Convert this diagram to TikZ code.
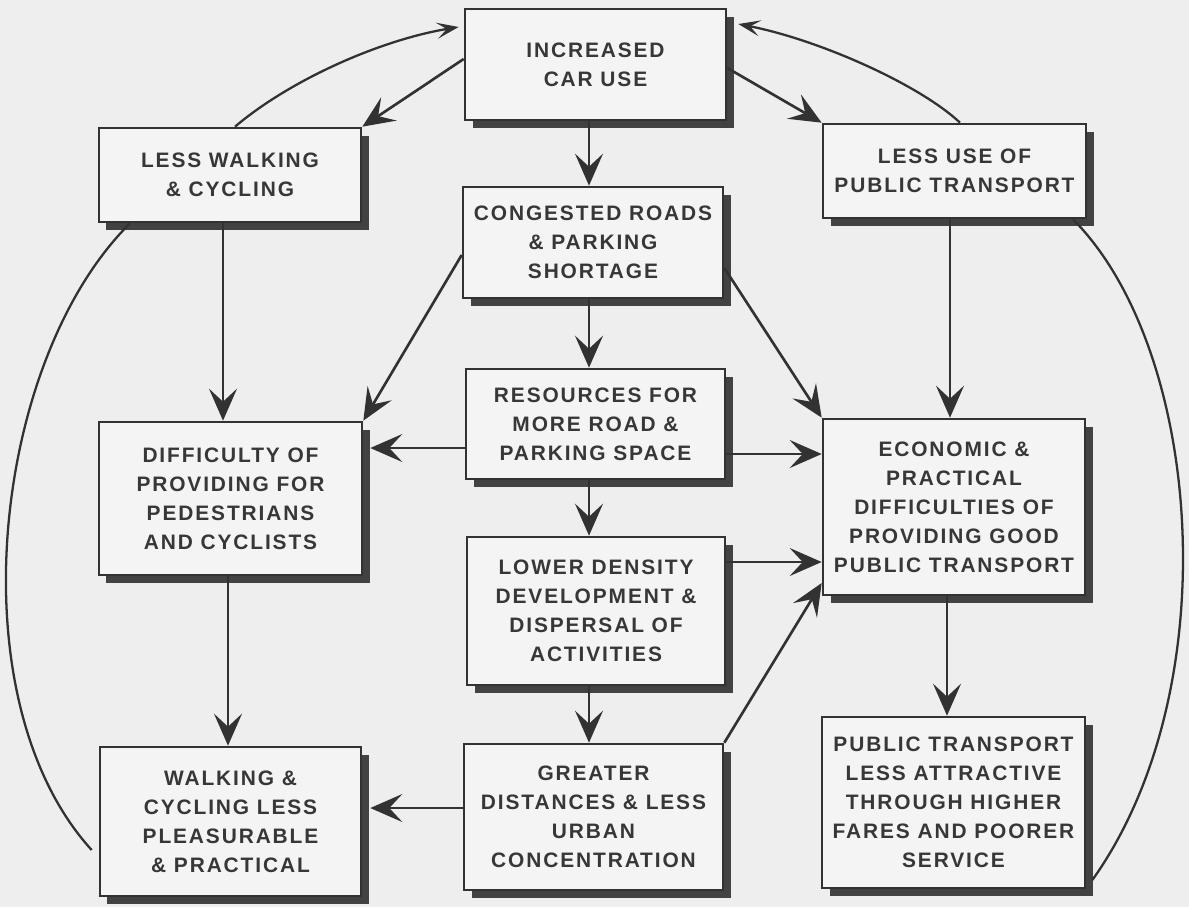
\documentclass[tikz,border=0pt]{standalone}
\usepackage{fontspec}
\usetikzlibrary{arrows.meta,shadows,calc}
\newfontfamily\boxfont[LetterSpace=9]{Liberation Sans}
\definecolor{linec}{RGB}{50,50,50}
\definecolor{shadowc}{RGB}{66,66,66}
\definecolor{textc}{RGB}{55,55,55}
\definecolor{bgc}{RGB}{238,238,238}
\definecolor{boxc}{RGB}{244,244,244}
\newcommand\drawbox[6]{\node[box, minimum width={(#4-#2)*0.02cm}, minimum height={(#5-#3)*0.02cm}] (#1) at ({(#2+#4)/2},{(#3+#5)/2}) {#6};}
\begin{document}
\begin{tikzpicture}[x=0.02cm,y=-0.02cm,
  box/.style={draw=linec, line width=1.5pt, fill=boxc, text=textc, align=center, inner sep=0pt,
    font=\boxfont\bfseries\fontsize{11.9}{16.5}\selectfont,
    general shadow={fill=shadowc, shadow xshift=0.15cm, shadow yshift=-0.16cm}},
  arr/.style={draw=linec, line width=1.5pt, -{Stealth[length=0.64cm, width=0.56cm, inset=0.26cm]}},
  carr/.style={draw=linec, line width=1.3pt, -{Stealth[length=0.44cm, width=0.32cm, inset=0.2cm]}},
  link/.style={draw=linec, line width=1.3pt}]
\fill[bgc] (0,0) rectangle (1189,907);
\useasboundingbox (0,0) rectangle (1189,907);

\drawbox{A}{465}{9}{726}{120}{INCREASED\\CAR USE}
\drawbox{B}{99}{128}{361}{222}{LESS WALKING\\\& CYCLING}
\drawbox{C}{823}{124}{1086}{218}{LESS USE OF\\PUBLIC TRANSPORT}
\drawbox{D}{463}{187}{723}{298}{CONGESTED ROADS\\\& PARKING\\SHORTAGE}
\drawbox{E}{466}{369}{725}{479}{RESOURCES FOR\\MORE ROAD \&\\PARKING SPACE}
\drawbox{F}{467}{537}{725}{685}{LOWER DENSITY\\DEVELOPMENT \&\\DISPERSAL OF\\ACTIVITIES}
\drawbox{G}{99}{422}{362}{575}{DIFFICULTY OF\\PROVIDING FOR\\PEDESTRIANS\\AND CYCLISTS}
\drawbox{H}{823}{419}{1085}{595}{ECONOMIC \&\\PRACTICAL\\DIFFICULTIES OF\\PROVIDING GOOD\\PUBLIC TRANSPORT}
\drawbox{I}{100}{747}{361}{896}{WALKING \&\\CYCLING LESS\\PLEASURABLE\\\& PRACTICAL}
\drawbox{J}{464}{744}{723}{890}{GREATER\\DISTANCES \& LESS\\URBAN\\CONCENTRATION}
\drawbox{K}{822}{717}{1085}{888}{PUBLIC TRANSPORT\\LESS ATTRACTIVE\\THROUGH HIGHER\\FARES AND POORER\\SERVICE}

\coordinate (mx) at (589,0);
\coordinate (bx) at (223,0);
\coordinate (gx) at (228,0);
\coordinate (cx) at (950,0);
\coordinate (hx) at (947,0);
\coordinate (bcx) at (235,0);
\coordinate (ccx) at (960,0);
\coordinate (lx) at (130,0);
\coordinate (rx) at (1073,0);
\coordinate (yA0) at (0,27);
\coordinate (yA1) at (0,59);
\coordinate (yA2) at (0,24);
\coordinate (yA3) at (0,68);
\coordinate (yD1) at (0,255);
\coordinate (yD2) at (0,268);
\coordinate (yEG) at (0,448);
\coordinate (yEH) at (0,454);
\coordinate (yFH) at (0,562);
\coordinate (yJH) at (0,583);
\coordinate (yJI) at (0,808);
\coordinate (yL) at (0,850);
\coordinate (yR) at (0,880);

\draw[arr] (A.west |- yA1) -- (B.north east);
\draw[carr] (B.north -| bcx) .. controls (290,80) and (380,40) .. ($(A.west |- yA0)+(-5,0)$);
\draw[arr] (A.east |- yA3) -- (C.north west);
\draw[carr] (C.north -| ccx) .. controls (920,85) and (820,40) .. ($(A.east |- yA2)+(11,0)$);
\draw[arr] (A.south -| mx) -- (D.north -| mx);
\draw[arr] (D.west |- yD1) -- (G.north east);
\draw[arr] (D.east |- yD2) -- (H.north west);
\draw[arr] (D.south -| mx) -- (E.north -| mx);
\draw[arr] (B.south -| bx) -- (G.north -| bx);
\draw[arr, shorten >=0.14cm] (E.west |- yEG) -- (G.east |- yEG);
\draw[arr] (E.east |- yEH) -- (H.west |- yEH);
\draw[arr] (C.south -| cx) -- (H.north -| cx);
\draw[arr] (E.south -| mx) -- (F.north -| mx);
\draw[arr] (F.east |- yFH) -- (H.west |- yFH);
\draw[arr] (G.south -| gx) -- (I.north -| gx);
\draw[arr] (F.south -| mx) -- (J.north -| mx);
\draw[arr] (J.north east) -- (H.west |- yJH);
\draw[arr, shorten >=0.16cm] (J.west |- yJI) -- (I.east |- yJI);
\draw[arr] (H.south -| hx) -- (K.north -| hx);
\draw[link] (B.south -| lx) .. controls (-8,360) and (-45,700) .. ($(I.west |- yL)+(-7,0)$);
\draw[link] (C.south -| rx) .. controls (1203,350) and (1228,690) .. ($(K.east |- yR)+(6,0)$);
\end{tikzpicture}
\end{document}
